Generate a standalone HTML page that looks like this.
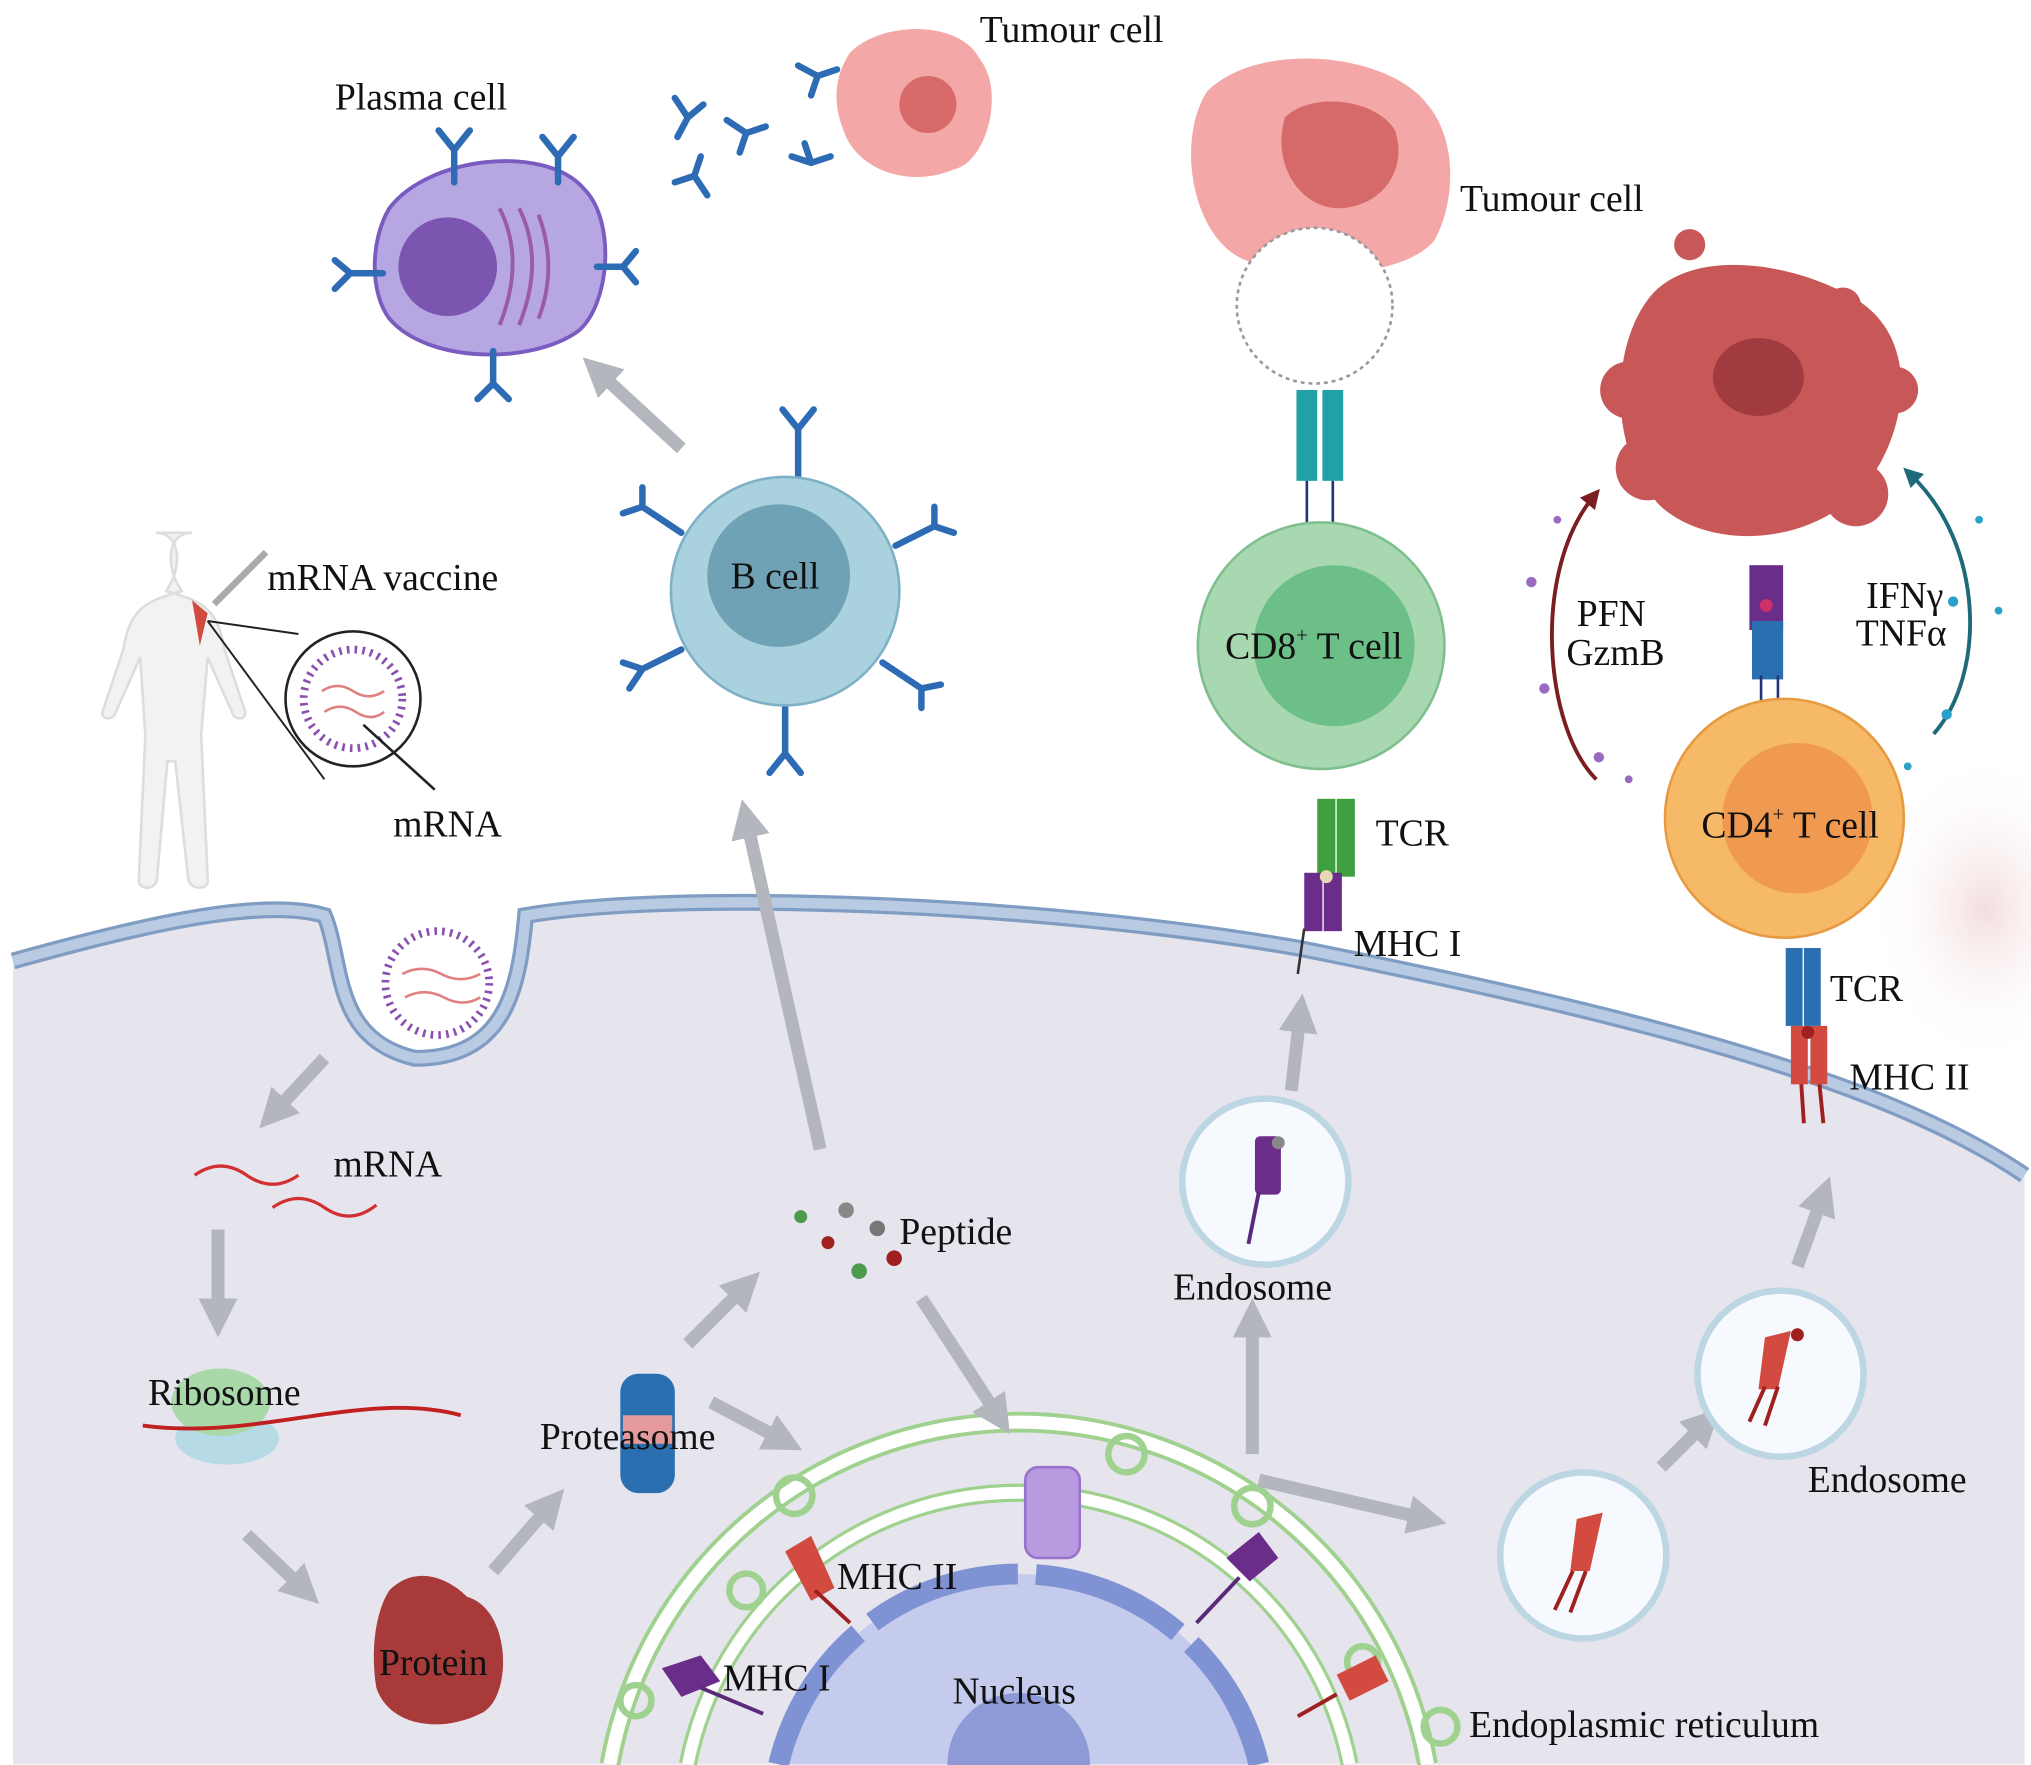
<!DOCTYPE html>
<html><head><meta charset="utf-8"><style>
html,body{margin:0;padding:0;background:#fff;}
svg{display:block;}
text{font-family:"Liberation Serif",serif;fill:#111;}
</style></head><body>
<svg width="2031" height="1765" viewBox="0 0 1565 1359" xmlns="http://www.w3.org/2000/svg">
<defs>
<radialGradient id="pinkfade" cx="0.5" cy="0.5" r="0.5"><stop offset="0" stop-color="#f3dede"/><stop offset="1" stop-color="#fff" stop-opacity="0"/></radialGradient>
<marker id="ah" viewBox="0 0 10 10" refX="5" refY="5" markerWidth="3" markerHeight="3" orient="auto"><path d="M0,0 L10,5 L0,10 z" fill="#b4b6bd"/></marker>
<marker id="ahr" viewBox="0 0 10 10" refX="5" refY="5" markerWidth="5" markerHeight="5" orient="auto"><path d="M0,0 L10,5 L0,10 z" fill="#7a1e22"/></marker>
<marker id="aht" viewBox="0 0 10 10" refX="5" refY="5" markerWidth="5" markerHeight="5" orient="auto"><path d="M0,0 L10,5 L0,10 z" fill="#1f6a7a"/></marker>
</defs>
<rect width="1565" height="1359" fill="#fff"/>
<ellipse cx="1530" cy="700" rx="90" ry="120" fill="url(#pinkfade)"/>
<path d="M10,740 C100,715 200,690 250,705 C265,740 255,800 320,815 C390,815 400,760 405,705 C520,685 800,695 1000,730 C1250,780 1450,830 1560,905 L1560,1359 L10,1359 Z" fill="#e6e4ed"/>
<path d="M10,740 C100,715 200,690 250,705 C265,740 255,800 320,815 C390,815 400,760 405,705 C520,685 800,695 1000,730 C1250,780 1450,830 1560,905" fill="none" stroke="#7f9cc3" stroke-width="13"/>
<path d="M10,740 C100,715 200,690 250,705 C265,740 255,800 320,815 C390,815 400,760 405,705 C520,685 800,695 1000,730 C1250,780 1450,830 1560,905" fill="none" stroke="#b9cbe3" stroke-width="8"/>
<circle cx="337" cy="757" r="40" fill="#fff" stroke="#8b4fb0" stroke-width="6" stroke-dasharray="2 4"/>
<path d="M310,750 q15,-8 30,0 t30,0 M312,768 q15,-8 30,0 t28,0" stroke="#e08080" stroke-width="2" fill="none"/>
<g fill="none">
<path d="M470,1359 A320,320 0 0 1 1100,1359" stroke="#9fd18f" stroke-width="16"/>
<path d="M470,1359 A320,320 0 0 1 1100,1359" stroke="#fff" stroke-width="10"/>
<path d="M530,1359 A260,260 0 0 1 1040,1359" stroke="#9fd18f" stroke-width="14"/>
<path d="M530,1359 A260,260 0 0 1 1040,1359" stroke="#fff" stroke-width="9"/>
</g>
<path d="M600,1359 A190,190 0 0 1 970,1359 Z" fill="#c5cbec"/>
<path d="M600,1359 A190,190 0 0 1 970,1359" fill="none" stroke="#7f93d4" stroke-width="16" stroke-dasharray="120 14"/>
<circle cx="785" cy="1359" r="55" fill="#8e9ad6"/>
<g fill="none" stroke="#9fd18f" stroke-width="5">
<circle cx="868" cy="1120" r="14"/><circle cx="612" cy="1152" r="14"/><circle cx="965" cy="1160" r="14"/><circle cx="575" cy="1225" r="13"/><circle cx="1110" cy="1330" r="13"/><circle cx="490" cy="1310" r="12"/><circle cx="1050" cy="1280" r="12"/>
</g>
<rect x="790" y="1130" width="42" height="70" rx="10" fill="#b89ae0" stroke="#9a72cc" stroke-width="2"/>
<g stroke="#b4b6bd" stroke-width="10" fill="none" marker-end="url(#ah)">
<line x1="250" y1="815" x2="210" y2="858"/>
<line x1="168" y1="947" x2="168" y2="1015"/>
<line x1="190" y1="1182" x2="235" y2="1225"/>
<line x1="380" y1="1210" x2="425" y2="1158"/>
<line x1="530" y1="1035" x2="575" y2="990"/>
<line x1="548" y1="1080" x2="605" y2="1110"/>
<line x1="710" y1="1000" x2="770" y2="1092"/>
<line x1="965" y1="1120" x2="965" y2="1015"/>
<line x1="970" y1="1140" x2="1100" y2="1170"/>
<line x1="995" y1="840" x2="1002" y2="780"/>
<line x1="1280" y1="1130" x2="1315" y2="1095"/>
<line x1="1385" y1="975" x2="1405" y2="920"/>
<line x1="632" y1="885" x2="575" y2="630"/>
<line x1="525" y1="345" x2="460" y2="285"/>
</g>
<path d="M150,905 q20,-14 40,0 t40,0 M210,930 q20,-14 40,0 t40,-2" stroke="#d03030" stroke-width="2.5" fill="none"/>
<text x="257" y="906" font-size="29">mRNA</text>
<ellipse cx="175" cy="1108" rx="40" ry="20" fill="#b6dbe6"/>
<ellipse cx="170" cy="1080" rx="38" ry="26" fill="#a9d8a9"/>
<path d="M110,1098 C200,1110 280,1070 355,1090" stroke="#c02020" stroke-width="3" fill="none"/>
<text x="114" y="1082" font-size="29">Ribosome</text>
<path d="M300,1225 C320,1205 345,1215 360,1230 C395,1240 395,1310 370,1320 C340,1335 300,1330 290,1300 C285,1270 290,1240 300,1225Z" fill="#a83a3a"/>
<text x="292" y="1290" font-size="29">Protein</text>
<rect x="478" y="1058" width="42" height="92" rx="14" fill="#2a6fb0"/>
<rect x="480" y="1090" width="38" height="22" fill="#e49a9a"/>
<text x="416" y="1116" font-size="29">Proteasome</text>
<circle cx="617" cy="937" r="5" fill="#4c9a4c"/><circle cx="652" cy="932" r="6" fill="#888"/><circle cx="676" cy="946" r="6" fill="#777"/><circle cx="638" cy="957" r="5" fill="#a02020"/><circle cx="689" cy="969" r="6" fill="#a02020"/><circle cx="662" cy="979" r="6" fill="#4c9a4c"/>
<text x="693" y="958" font-size="29">Peptide</text>
<path d="M605,1195 l20,-12 l18,40 l-18,10 z" fill="#d24a40"/>
<line x1="628" y1="1225" x2="655" y2="1250" stroke="#a02020" stroke-width="3"/>
<text x="645" y="1224" font-size="29">MHC II</text>
<path d="M510,1285 l30,-10 l15,20 l-30,12 z" fill="#6a2d8a"/>
<line x1="540" y1="1300" x2="588" y2="1320" stroke="#5a2a7a" stroke-width="3"/>
<text x="557" y="1302" font-size="29">MHC I</text>
<path d="M945,1200 l25,-20 l15,20 l-22,18z" fill="#6a2d8a"/><line x1="955" y1="1215" x2="922" y2="1250" stroke="#5a2a7a" stroke-width="3"/>
<path d="M1030,1290 l30,-15 l10,20 l-30,15z" fill="#d24a40"/><line x1="1030" y1="1305" x2="1000" y2="1322" stroke="#a02020" stroke-width="3"/>
<text x="734" y="1312" font-size="29">Nucleus</text>
<text x="1132" y="1338" font-size="29">Endoplasmic reticulum</text>
<g stroke="#bcd6e4" stroke-width="5" fill="#f6f9fd">
<circle cx="975" cy="910" r="64"/><circle cx="1372" cy="1058" r="64"/><circle cx="1220" cy="1198" r="64"/>
</g>
<rect x="967" y="875" width="20" height="45" rx="4" fill="#6a2d8a"/><line x1="970" y1="918" x2="962" y2="958" stroke="#5a2a7a" stroke-width="3"/><circle cx="985" cy="880" r="5" fill="#888"/>
<text x="904" y="1001" font-size="29">Endosome</text>
<path d="M1360,1030 l20,-5 l-10,45 l-15,0z" fill="#d24a40"/><line x1="1360" y1="1068" x2="1348" y2="1095" stroke="#a02020" stroke-width="3"/><line x1="1370" y1="1068" x2="1360" y2="1098" stroke="#a02020" stroke-width="3"/><circle cx="1385" cy="1028" r="5" fill="#a02020"/>
<text x="1393" y="1149" font-size="29">Endosome</text>
<path d="M1215,1170 l20,-5 l-10,45 l-15,0z" fill="#d24a40"/><line x1="1212" y1="1210" x2="1198" y2="1240" stroke="#a02020" stroke-width="3"/><line x1="1222" y1="1210" x2="1210" y2="1242" stroke="#a02020" stroke-width="3"/>
<path d="M120,410 c12,0 18,10 16,25 c-2,12 -6,16 -8,20 c30,8 40,15 45,45 l15,45 c4,8 -4,10 -8,6 l-20,-45 l-5,60 l5,110 c2,10 -14,10 -15,0 l-10,-90 l-6,0 l-8,90 c0,10 -16,10 -14,0 l5,-110 l-4,-60 l-20,45 c-4,4 -12,2 -8,-6 l15,-45 c5,-30 15,-37 45,-45 c-2,-4 -6,-8 -8,-20 c-2,-15 4,-25 16,-25z" fill="#f2f2f2" stroke="#ddd" stroke-width="2"/>
<path d="M148,462 l12,10 l-6,25 z" fill="#d04a40"/>
<line x1="165" y1="465" x2="205" y2="425" stroke="#aaa" stroke-width="5"/>
<line x1="160" y1="478" x2="230" y2="488" stroke="#222" stroke-width="1.5"/><line x1="160" y1="478" x2="250" y2="600" stroke="#222" stroke-width="1.5"/>
<circle cx="272" cy="538" r="52" fill="#fff" stroke="#222" stroke-width="2"/>
<circle cx="272" cy="538" r="38" fill="#fff" stroke="#8b4fb0" stroke-width="6" stroke-dasharray="2 4"/>
<path d="M248,532 q12,-8 24,0 t24,0 M250,548 q12,-8 24,0 t22,0" stroke="#e08080" stroke-width="2" fill="none"/>
<line x1="280" y1="558" x2="335" y2="608" stroke="#222" stroke-width="2"/>
<text x="206" y="454" font-size="29">mRNA vaccine</text>
<text x="303" y="644" font-size="29">mRNA</text>
<path d="M300,160 C330,120 420,110 450,145 C475,170 470,235 445,255 C410,280 330,280 300,245 C285,225 285,185 300,160Z" fill="#b6a7e3" stroke="#7a5cc0" stroke-width="3"/>
<circle cx="345" cy="205" r="38" fill="#7b55b0"/>
<path d="M385,160 q20,40 0,90 M400,160 q20,40 0,90 M415,165 q15,40 0,80" stroke="#9a5aa8" stroke-width="3" fill="none"/>
<text x="258" y="84" font-size="29">Plasma cell</text>
<g stroke="#2d6bb5" stroke-width="5" fill="none" stroke-linecap="round">
<path d="M350,140 v-25 l-12,-15 M350,115 l12,-15"/><path d="M430,140 v-20 l-12,-15 M430,120 l12,-15"/>
<path d="M295,210 h-25 l-12,-10 M270,210 l-12,12"/><path d="M460,205 h20 l10,-12 M480,205 l10,12"/>
<path d="M380,270 v25 l-12,12 M380,295 l12,12"/>
<path d="M520,75 l10,15 l-8,15 M530,90 l12,-10"/><path d="M560,92 l15,10 l15,-5 M575,102 l-5,15"/><path d="M520,140 l15,-5 l10,15 M535,135 l5,-15"/><path d="M610,120 l15,5 l15,-5 M625,125 l-5,-15"/><path d="M615,50 l15,8 l15,-5 M630,58 l-5,15"/>
</g>
<path d="M655,40 C680,15 740,15 755,45 C775,70 760,125 735,130 C700,145 660,130 650,100 C640,75 645,55 655,40Z" fill="#f4a7a7"/>
<circle cx="715" cy="80" r="22" fill="#d86a6a"/>
<text x="755" y="32" font-size="29">Tumour cell</text>
<g stroke="#2d6bb5" stroke-width="5" fill="none" stroke-linecap="round">
<path d="M615,370 v-40 l-12,-15 M615,330 l12,-15"/><path d="M525,410 l-30,-20 l-15,5 M495,390 l0,-15"/><path d="M690,420 l30,-15 l15,5 M720,405 l0,-15"/>
<path d="M525,500 l-30,15 l-10,15 M495,515 l-15,-5"/><path d="M680,510 l30,20 l15,-3 M710,530 l0,15"/><path d="M605,540 v40 l-12,15 M605,580 l12,15"/>
</g>
<circle cx="605" cy="455" r="88" fill="#a9d2de" stroke="#7fb1c6" stroke-width="2"/>
<circle cx="600" cy="443" r="55" fill="#6fa2b5"/>
<text x="563" y="453" font-size="29">B cell</text>
<path d="M930,70 C970,30 1070,40 1100,80 C1125,110 1120,160 1105,185 C1085,210 1010,220 960,200 C920,185 905,110 930,70Z" fill="#f4a7a7"/>
<path d="M990,90 C1010,70 1060,75 1075,100 C1085,130 1065,160 1030,160 C1000,158 980,125 990,90Z" fill="#d66a6a"/>
<circle cx="1013" cy="235" r="60" fill="#fff" stroke="#999" stroke-width="2" stroke-dasharray="3 3"/>
<text x="1125" y="162" font-size="29">Tumour cell</text>
<rect x="999" y="300" width="16" height="70" fill="#21a0a8"/><rect x="1019" y="300" width="16" height="70" fill="#21a0a8"/>
<line x1="1007" y1="370" x2="1007" y2="410" stroke="#237" stroke-width="2"/><line x1="1027" y1="370" x2="1027" y2="410" stroke="#237" stroke-width="2"/>
<circle cx="1018" cy="497" r="95" fill="#a7d8b0" stroke="#7fbf8f" stroke-width="2"/>
<circle cx="1028" cy="497" r="62" fill="#6dbf88"/>
<text x="944" y="507" font-size="29">CD8<tspan font-size="16" dy="-13">+</tspan><tspan dy="13"> T cell</tspan></text>
<rect x="1015" y="615" width="14" height="60" fill="#3fa03f"/><rect x="1030" y="615" width="14" height="60" fill="#3fa03f"/>
<rect x="1005" y="672" width="14" height="45" fill="#6a2d8a"/><rect x="1020" y="672" width="14" height="45" fill="#6a2d8a"/>
<circle cx="1022" cy="675" r="5" fill="#e6d8b0"/>
<line x1="1005" y1="715" x2="1000" y2="750" stroke="#333" stroke-width="2"/>
<text x="1060" y="651" font-size="29">TCR</text>
<text x="1043" y="736" font-size="29">MHC I</text>
<path d="M1270,230 C1300,190 1380,200 1430,230 C1480,260 1470,330 1440,370 C1400,420 1320,425 1280,390 C1240,350 1240,270 1270,230Z" fill="#c85858"/>
<ellipse cx="1355" cy="290" rx="35" ry="30" fill="#a03c40"/>
<circle cx="1302" cy="188" r="12" fill="#c85858"/><circle cx="1255" cy="300" r="22" fill="#c85858"/><circle cx="1270" cy="360" r="25" fill="#c85858"/><circle cx="1430" cy="380" r="25" fill="#c85858"/><circle cx="1460" cy="300" r="18" fill="#c85858"/><circle cx="1420" cy="235" r="14" fill="#c85858"/>
<rect x="1348" y="435" width="26" height="50" fill="#6a2d8a"/><rect x="1350" y="478" width="24" height="45" fill="#2a6fb0"/><circle cx="1361" cy="466" r="5" fill="#d0306a"/>
<path d="M1230,600 C1190,560 1180,440 1228,382" stroke="#7a1e22" stroke-width="3" fill="none" marker-end="url(#ahr)"/>
<path d="M1490,565 C1530,520 1530,420 1472,365" stroke="#1f6a7a" stroke-width="3" fill="none" marker-end="url(#aht)"/>
<g fill="#9a6ac0"><circle cx="1180" cy="448" r="4"/><circle cx="1190" cy="530" r="4"/><circle cx="1232" cy="583" r="4"/><circle cx="1200" cy="400" r="3"/><circle cx="1255" cy="600" r="3"/></g>
<g fill="#2ba0c8"><circle cx="1505" cy="463" r="4"/><circle cx="1500" cy="550" r="4"/><circle cx="1525" cy="400" r="3"/><circle cx="1470" cy="590" r="3"/><circle cx="1540" cy="470" r="3"/></g>
<text x="1215" y="482" font-size="29">PFN</text><text x="1207" y="512" font-size="29">GzmB</text>
<text x="1438" y="468" font-size="29">IFNγ</text><text x="1430" y="497" font-size="29">TNFα</text>
<line x1="1357" y1="520" x2="1357" y2="545" stroke="#237" stroke-width="2"/><line x1="1370" y1="520" x2="1370" y2="545" stroke="#237" stroke-width="2"/>
<circle cx="1375" cy="630" r="92" fill="#f6b968" stroke="#e89a40" stroke-width="2"/>
<circle cx="1385" cy="630" r="58" fill="#ef9a50"/>
<text x="1311" y="645" font-size="29">CD4<tspan font-size="16" dy="-13">+</tspan><tspan dy="13"> T cell</tspan></text>
<rect x="1376" y="730" width="13" height="60" fill="#2a6fb0"/><rect x="1390" y="730" width="13" height="60" fill="#2a6fb0"/>
<rect x="1380" y="790" width="13" height="45" fill="#d24a40"/><rect x="1395" y="790" width="13" height="45" fill="#d24a40"/>
<circle cx="1393" cy="795" r="5" fill="#a02020"/>
<line x1="1388" y1="835" x2="1390" y2="865" stroke="#a02020" stroke-width="3"/><line x1="1402" y1="835" x2="1405" y2="865" stroke="#a02020" stroke-width="3"/>
<text x="1410" y="771" font-size="29">TCR</text>
<text x="1425" y="839" font-size="29">MHC II</text>
</svg>
</body></html>
